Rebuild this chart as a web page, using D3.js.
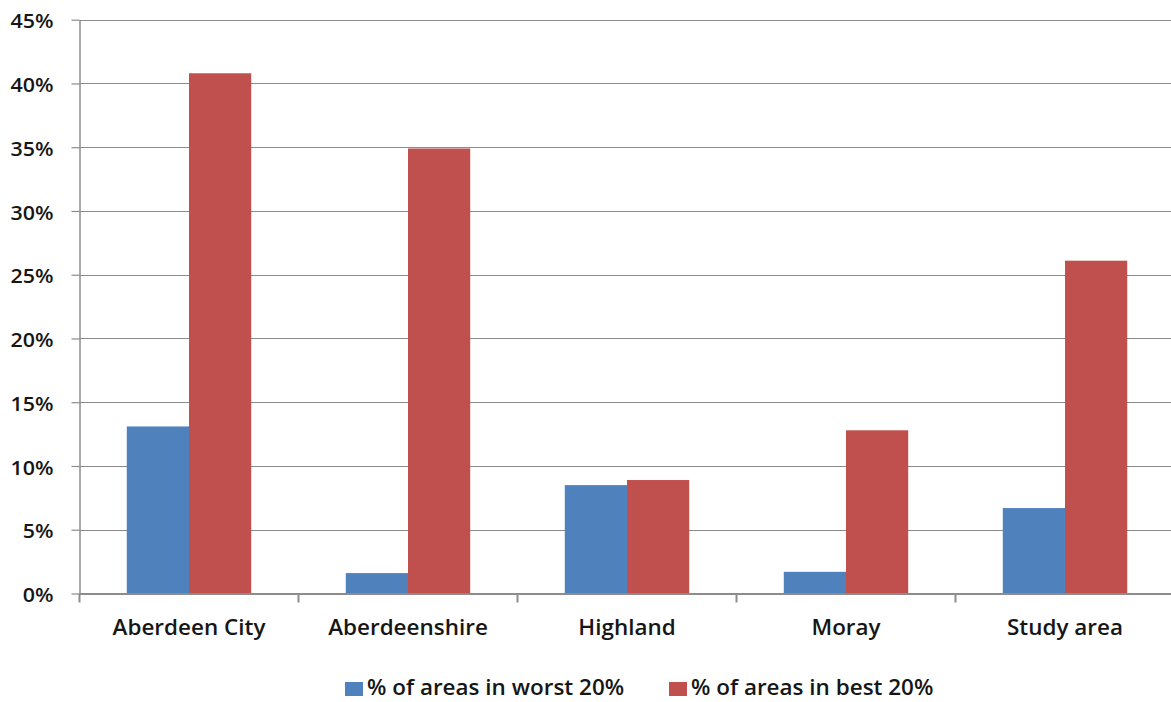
<!DOCTYPE html>
<html><head><meta charset="utf-8">
<script src="https://cdn.jsdelivr.net/npm/d3@7"></script>
<style>body{margin:0;background:#fff;} svg{display:block;}</style>
</head><body>
<svg id="chart" width="1171" height="702"></svg>
<script>
const categories = ["Aberdeen City", "Aberdeenshire", "Highland", "Moray", "Study area"];
const seriesNames = ["% of areas in worst 20%", "% of areas in best 20%"];
const worst20 = [13.1, 1.6, 8.5, 1.7, 6.7];
const best20 = [40.8, 34.9, 8.9, 12.8, 26.1];
const yTicks = [0, 5, 10, 15, 20, 25, 30, 35, 40, 45];
const colors = ["#4F81BD", "#C0504D"];

const svg = d3.select("#chart");
const mLeft = 79.5, mRight = 1174.5, mTop = 19.7, mBottom = 593.5;
const font = "'Open Sans', sans-serif";
const sx = 1.07;
const txtColor = "#161616";

const x = d3.scaleBand().domain(categories).range([mLeft, mRight]).paddingInner(0).paddingOuter(0);
const y = d3.scaleLinear().domain([0, 45]).range([mBottom, mTop]);
const inner = d3.scaleBand().domain([0, 1]).range([0, x.bandwidth()]).paddingInner(0).paddingOuter(0.76);

// gridlines
svg.append("g").selectAll("line").data(yTicks.filter(d => d > 0)).join("line")
  .attr("x1", mLeft).attr("x2", 1171)
  .attr("y1", d => Math.round(y(d)) + 0.5).attr("y2", d => Math.round(y(d)) + 0.5)
  .attr("stroke", "#8c8c8c").attr("stroke-width", 1.2);

// bars
const data = categories.map((c, i) => ({c, vals: [worst20[i], best20[i]]}));
const g = svg.append("g");
data.forEach(d => {
  d.vals.forEach((v, s) => {
    g.append("rect")
      .attr("x", x(d.c) + inner(s))
      .attr("width", inner.bandwidth())
      .attr("y", y(v))
      .attr("height", y(0) - y(v))
      .attr("fill", colors[s]);
  });
});

// y axis
const yAxis = d3.axisLeft(y).tickValues(yTicks).tickFormat(d => d + "%").tickSize(8).tickSizeOuter(0);
const ya = svg.append("g").attr("transform", `translate(${mLeft},0)`).call(yAxis);
ya.select(".domain").attr("stroke", "#8c8c8c").attr("stroke-width", 1.5);
ya.selectAll(".tick line").attr("stroke", "#8c8c8c").attr("stroke-width", 1.2);
ya.selectAll(".tick text").attr("font-family", font).attr("font-size", 20).attr("font-weight", 600)
  .attr("fill", txtColor).attr("x", 0).attr("dy", "0.36em")
  .attr("transform", `translate(-26,1) scale(${sx},1)`);

// x axis
const xAxis = d3.axisBottom(x).tickSize(0).tickSizeOuter(0);
const xa = svg.append("g").attr("transform", `translate(0,${mBottom})`).call(xAxis);
xa.select(".domain").attr("stroke", "#8c8c8c").attr("stroke-width", 2);
xa.selectAll(".tick text").attr("font-family", font).attr("font-size", 21).attr("font-weight", 600)
  .attr("fill", txtColor).attr("dy", 0).attr("y", 0)
  .attr("transform", `translate(0,41) scale(${sx},1)`);
// category boundary ticks
const bounds = categories.map(c => x(c)).concat([mRight]);
xa.append("g").selectAll("line").data(bounds).join("line")
  .attr("x1", d => d).attr("x2", d => d).attr("y1", 0).attr("y2", 9)
  .attr("stroke", "#8c8c8c").attr("stroke-width", 2);

// legend
const legendX = [345, 669];
seriesNames.forEach((n, i) => {
  const lg = svg.append("g").attr("transform", `translate(${legendX[i]},682)`);
  lg.append("rect").attr("width", 18).attr("height", 14).attr("fill", colors[i]);
  lg.append("text").attr("transform", `translate(22,13) scale(${sx},1)`)
    .attr("font-family", font).attr("font-size", 21).attr("font-weight", 600)
    .attr("fill", txtColor).text(n);
});
</script>
</body></html>
